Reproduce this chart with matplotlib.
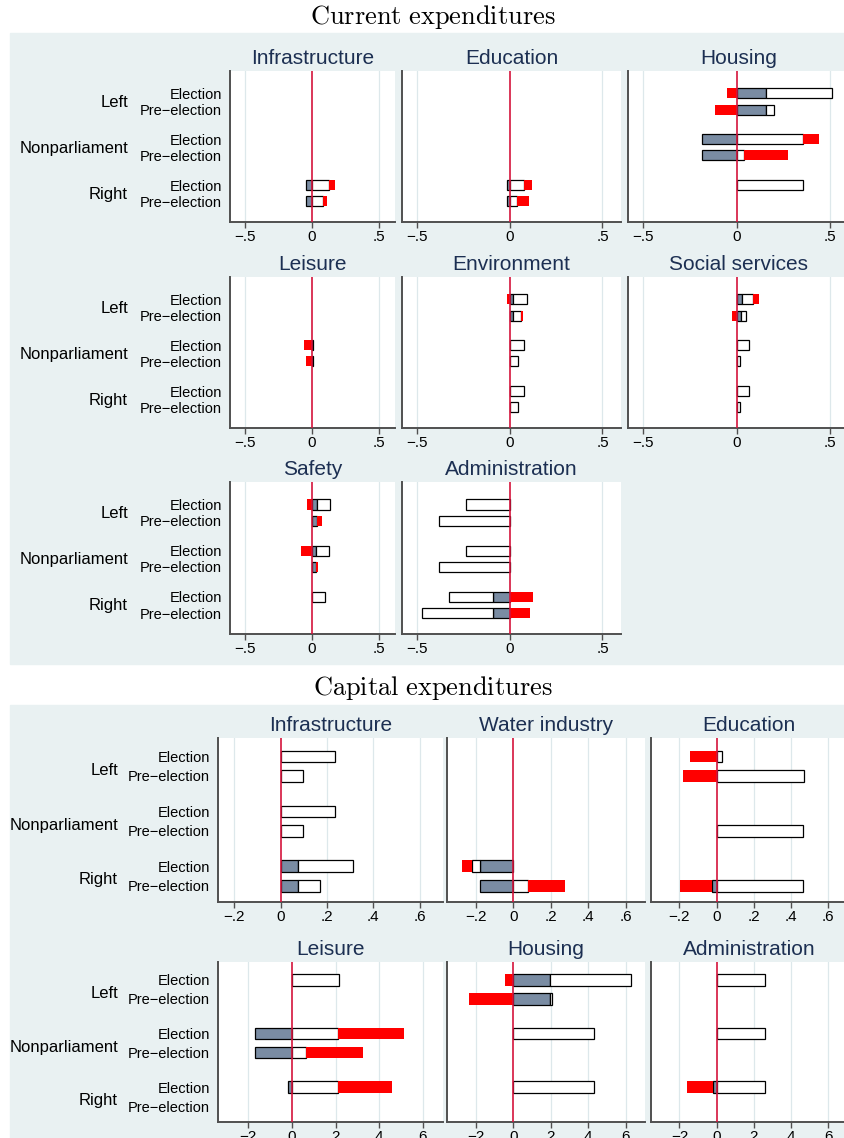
import numpy as np
import matplotlib
matplotlib.use('Agg')
import matplotlib.pyplot as plt
from matplotlib.patches import Rectangle

plt.rcParams['font.family'] = ['Liberation Sans', 'DejaVu Sans']
plt.rcParams['mathtext.fontset'] = 'cm'

# bar order in every panel
groups = ['Left', 'Nonparliament', 'Right']
periods = ['Election', 'Pre\u2212election']

# ---- current expenditures: 8 panels x 6 bars (L-E, L-P, N-E, N-P, R-E, R-P)
cur_names = ['Infrastructure', 'Education', 'Housing', 'Leisure',
             'Environment', 'Social services', 'Safety', 'Administration']
cur_gray = [[0, 0, 0, 0, -0.04, -0.04],
            [0, 0, 0, 0, -0.014, -0.014],
            [0.158, 0.158, -0.183, -0.183, 0, 0],
            [0, 0, 0.008, 0.008, 0, 0],
            [0.02, 0.02, 0, 0, 0, 0],
            [0.028, 0.025, 0, 0, 0, 0],
            [0.035, 0.035, 0.03, 0.03, 0, 0],
            [0, 0, 0, 0, -0.087, -0.087]]
cur_white = [[0, 0, 0, 0, 0.13, 0.08],
             [0, 0, 0, 0, 0.08, 0.037],
             [0.353, 0.043, 0.353, 0.037, 0.355, 0],
             [0, 0, 0, 0, 0, 0],
             [0.073, 0.039, 0.076, 0.044, 0.076, 0.044],
             [0.062, 0.023, 0.066, 0.02, 0.066, 0.02],
             [0.097, 0, 0.097, 0, 0.097, 0],
             [-0.237, -0.383, -0.237, -0.383, -0.239, -0.383]]
cur_red = [[0, 0, 0, 0, 0.04, 0.03],
           [0, 0, 0, 0, 0.04, 0.066],
           [-0.053, -0.117, 0.085, 0.236, 0, 0],
           [0, 0, -0.057, -0.047, 0, 0],
           [-0.012, 0.014, 0, 0, 0, 0],
           [0.027, -0.025, 0, 0, 0, 0],
           [-0.035, 0.044, -0.082, 0.018, 0, 0],
           [0, 0, 0, 0, 0.127, 0.11]]
cur_ticks = [-0.5, 0, 0.5]
cur_ticklabels = ['\u2212.5', '0', '.5']

# ---- capital expenditures: 6 panels
cap_names = ['Infrastructure', 'Water industry', 'Education',
             'Leisure', 'Housing', 'Administration']
cap_gray = [[0, 0, 0, 0, 0.73, 0.73],
            [0, 0, 0, 0, -1.78, -1.78],
            [0, 0, 0, 0, 0, -0.27],
            [0, 0, -1.68, -1.68, -0.18, 0],
            [1.96, 1.96, 0, 0, 0, 0],
            [0, 0, 0, 0, -0.2, 0]]
cap_white = [[2.36, 0.95, 2.36, 0.95, 2.38, 0.96],
             [0, 0, 0, 0, -0.41, 0.77],
             [0.3, 4.69, 0, 4.65, 0, 4.65],
             [2.17, 0, 2.12, 0.65, 2.12, 0],
             [4.31, 0.12, 4.31, 0, 4.31, 0],
             [2.59, 0, 2.59, 0, 2.59, 0]]
cap_red = [[0, 0, 0, 0, 0, 0],
           [0, 0, 0, 0, -0.53, 1.98],
           [-1.45, -1.81, 0, 0, 0, -1.70],
           [0, 0, 3.02, 2.62, 2.49, 0],
           [-0.43, -2.35, 0, 0, 0, 0],
           [0, 0, 0, 0, -1.40, 0]]
cap_ticks = [-2, 0, 2, 4, 6]
cap_ticklabels_top = ['\u2212.2', '0', '.2', '.4', '.6']
cap_ticklabels_bot = ['\u22122', '0', '2', '4', '6']

GRAY = '#7A8CA3'
RED = '#FF0000'
ZERO = '#D4143C'
BG = '#E9F1F2'
GRID = '#DDE8EB'
NAVY = '#1C2F52'
SPINE = '#505050'

W, H = 844, 1138
fig = plt.figure(figsize=(W / 100, H / 100), dpi=100)

# section backgrounds
fig.patches.append(Rectangle((10 / W, 1 - 664 / H), 834 / W, 631 / H,
                             transform=fig.transFigure, color=BG, zorder=-5))
fig.patches.append(Rectangle((9.5 / W, 0), 834.5 / W, 1 - 705 / H,
                             transform=fig.transFigure, color=BG, zorder=-5))
fig.text(433 / W, 1 - 17 / H, r'$\mathrm{Current\ expenditures}$',
         ha='center', va='center', fontsize=19)
fig.text(433 / W, 1 - 688 / H, r'$\mathrm{Capital\ expenditures}$',
         ha='center', va='center', fontsize=19)

ypos = np.array([0, 1, 2.83, 3.83, 5.66, 6.66])


def add_ax(x0, x1, y0, y1):
    return fig.add_axes([x0 / W, 1 - y1 / H, (x1 - x0) / W, (y1 - y0) / H])


def panel(ax, name, gray, white, red, xlim, ylim, ticks, ticklabels,
          height, first_col, label_off, label_dy):
    pos = np.zeros(6)
    neg = np.zeros(6)
    for vals, fc, ec in [(gray, GRAY, 'black'), (white, 'white', 'black'),
                         (red, RED, 'none')]:
        for i, v in enumerate(vals):
            if v == 0:
                continue
            if v > 0:
                left = pos[i]
                pos[i] += v
            else:
                left = neg[i] + v
                neg[i] += v
            ax.barh(ypos[i], abs(v), left=left, height=height, color=fc,
                    edgecolor=ec, linewidth=0.9, zorder=2)
    ax.axvline(0, color=ZERO, lw=1.2, zorder=3)
    ax.set_xlim(*xlim)
    ax.set_ylim(*ylim)
    ax.set_xticks(ticks)
    ax.set_xticklabels(ticklabels)
    for t in ticks:
        if t != 0:
            ax.axvline(t, color=GRID, lw=0.9, zorder=0)
    ax.tick_params(axis='x', direction='out', length=4, width=1,
                   color=SPINE, labelsize=11, pad=2)
    for s in ['top', 'right']:
        ax.spines[s].set_visible(False)
    for s in ['left', 'bottom']:
        ax.spines[s].set_color(SPINE)
        ax.spines[s].set_linewidth(1.4)
    ax.set_title(name, color=NAVY, fontsize=15, pad=5)
    if first_col:
        ax.set_yticks(ypos)
        ax.set_yticklabels(periods * 3, fontsize=10.5)
        ax.tick_params(axis='y', length=0, pad=6)
        for g, mid in zip(groups, [0.5, 3.33, 6.16]):
            ax.annotate(g, xy=(0, mid), xycoords=('axes fraction', 'data'),
                        xytext=(label_off, label_dy), textcoords='offset pixels',
                        ha='right', va='center', fontsize=12)
    else:
        ax.set_yticks([])


cur_rows = [(71, 222), (277, 428), (482, 634)]
cur_cols = [(230, 395), (402, 621), (628, 849)]
for k, name in enumerate(cur_names):
    r, c = divmod(k, 3)
    ax = add_ax(cur_cols[c][0], cur_cols[c][1], cur_rows[r][0], cur_rows[r][1])
    xl = (-0.61, 0.62) if c == 0 else (-0.58, 0.6)
    panel(ax, name, cur_gray[k], cur_white[k], cur_red[k], xl, (7.94, -1.38),
          cur_ticks, cur_ticklabels, 0.62, c == 0, -102, -1)

cap_rows = [(738, 902), (962, 1122)]
cap_cols = [(218, 443), (447, 645), (651, 847)]
cap_xlims = [[(-2.7, 7.0), (-3.53, 7.03), (-3.53, 7.0)],
             [(-3.39, 6.93), (-3.53, 7.03), (-3.53, 7.0)]]
for k, name in enumerate(cap_names):
    r, c = divmod(k, 3)
    ax = add_ax(cap_cols[c][0], cap_cols[c][1], cap_rows[r][0], cap_rows[r][1])
    labels = cap_ticklabels_top if r == 0 else cap_ticklabels_bot
    panel(ax, name, cap_gray[k], cap_white[k], cap_red[k], cap_xlims[r][c],
          (7.5, -0.95), cap_ticks, labels, 0.6, c == 0, -100, -4)

fig.savefig('out.png', dpi=100)
